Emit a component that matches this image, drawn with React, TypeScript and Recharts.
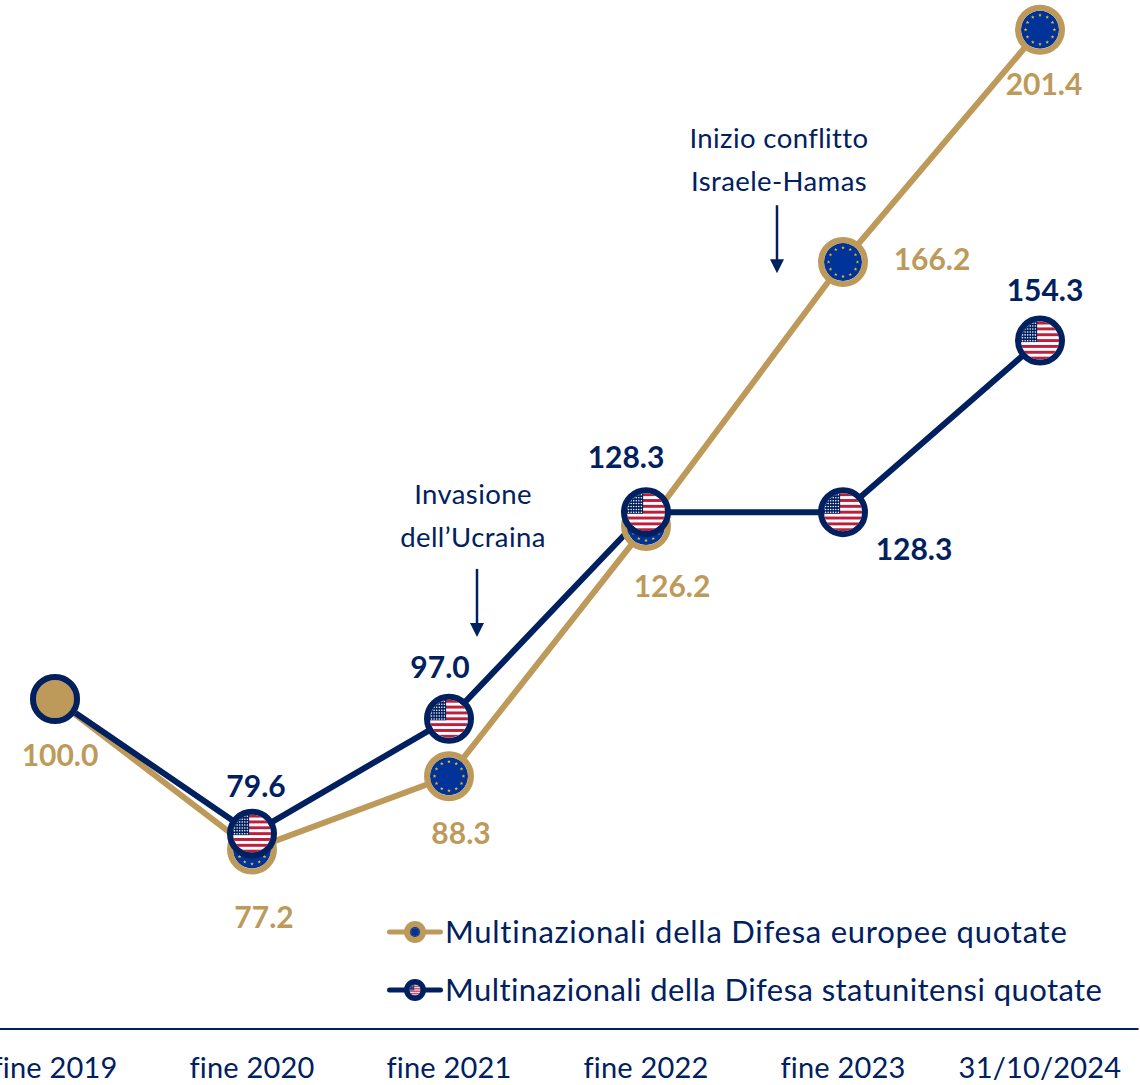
import { useId } from 'react'
import { LineChart, Line, XAxis, YAxis, LabelList, Legend, ReferenceDot } from 'recharts'

const categories = ['fine 2019', 'fine 2020', 'fine 2021', 'fine 2022', 'fine 2023', '31/10/2024']
const europeValues = [100.0, 77.2, 88.3, 126.2, 166.2, 201.4]
const usValues = [100.0, 79.6, 97.0, 128.3, 128.3, 154.3]
const europeName = 'Multinazionali della Difesa europee quotate'
const usName = 'Multinazionali della Difesa statunitensi quotate'

const data = categories.map((category, i) => ({
  category,
  europe: europeValues[i],
  us: usValues[i],
}))

const GOLD = '#BD9A5A'
const NAVY = '#002060'
const EU_BLUE = '#003399'
const EU_STAR = '#E8B820'
const US_RED = '#BE1E3C'
const FONT = 'Lato, sans-serif'

// label offsets from each point, by index
const europeLabelOffsets = [[5, 55], [12, 67], [12, 56], [26, 59], [89, -4], [4, 53]]
const usLabelOffsets = [null, [4, -49], [-9, -53], [-20, -56], [71, 36], [5, -52]]

function starPath(cx: number, cy: number, size: number) {
  const points = Array.from({ length: 10 }, (_, i) => {
    const a = -Math.PI / 2 + (i * Math.PI) / 5
    const rad = i % 2 === 0 ? size : size * 0.42
    return `${cx + Math.cos(a) * rad},${cy + Math.sin(a) * rad}`
  })
  return `M${points.join('L')}Z`
}

function EuFlag({ r }: { r: number }) {
  const stars = Array.from({ length: 12 }, (_, i) => (i * Math.PI) / 6)
  return (
    <g>
      <circle r={r} fill={EU_BLUE} />
      {stars.map((a) => (
        <path key={a} d={starPath(Math.cos(a) * r * 0.76, Math.sin(a) * r * 0.76, r * 0.1)} fill={EU_STAR} />
      ))}
    </g>
  )
}

function UsFlag({ r }: { r: number }) {
  const id = useId()
  const h = (2 * r) / 13
  const rows = Array.from({ length: 13 }, (_, i) => i)
  const starRows = Array.from({ length: 7 }, (_, i) => i)
  const starCols = Array.from({ length: 6 }, (_, i) => i)
  return (
    <g clipPath={`url(#${id})`}>
      <clipPath id={id}>
        <circle r={r} />
      </clipPath>
      <rect x={-r} y={-r} width={2 * r} height={2 * r} fill="#fff" />
      {rows
        .filter((i) => i % 2 === 0)
        .map((i) => (
          <rect key={i} x={-r} y={-r + i * h} width={2 * r} height={h} fill={US_RED} />
        ))}
      <rect x={-r} y={-r} width={r * 0.85} height={7 * h} fill={NAVY} />
      {starRows.map((row) =>
        starCols.map((col) => (
          <circle
            key={`${row}-${col}`}
            cx={-r + (col + 0.6) * r * 0.135}
            cy={-r + (row + 0.55) * h}
            r={r * 0.04}
            fill="#fff"
          />
        )),
      )}
    </g>
  )
}

function EuropeDot({ cx, cy, index }: any) {
  return (
    <g key={index} transform={`translate(${cx},${cy})`}>
      {index === 0 ? <circle r={19} fill={GOLD} /> : <EuFlag r={19} />}
      <circle r={22} fill="none" stroke={GOLD} strokeWidth={6} />
    </g>
  )
}

function UsDot({ cx, cy, index }: any) {
  return (
    <g key={index} transform={`translate(${cx},${cy})`}>
      {index === 0 ? <circle r={19} fill={GOLD} /> : <UsFlag r={19} />}
      <circle r={22} fill="none" stroke={NAVY} strokeWidth={6} />
    </g>
  )
}

function valueLabel(offsets: (number[] | null)[], color: string) {
  return ({ x, y, value, index }: any) => {
    const offset = offsets[index]
    if (!offset) return null
    return (
      <text
        x={x + offset[0]}
        y={y + offset[1]}
        textAnchor="middle"
        dominantBaseline="central"
        fill={color}
        fontFamily={FONT}
        fontSize={30}
        fontWeight={700}
      >
        {Number(value).toFixed(1)}
      </text>
    )
  }
}

function Annotation({ cx, cy, dx, textDx, lines, top }: any) {
  const x = cx + dx
  return (
    <g>
      {lines.map((line: string, i: number) => (
        <text
          key={line}
          x={x + textDx}
          y={cy + top + i * 43}
          textAnchor="middle"
          dominantBaseline="central"
          fill={NAVY}
          fontFamily={FONT}
          fontSize={27.5}
          letterSpacing={0.4}
        >
          {line}
        </text>
      ))}
      <line x1={x} y1={cy - 68} x2={x} y2={cy - 10} stroke={NAVY} strokeWidth={2.5} />
      <path d={`M${x - 7},${cy - 14}L${x + 7},${cy - 14}L${x},${cy}Z`} fill={NAVY} />
    </g>
  )
}

function LegendRow({ color, label, flag, spacing }: { color: string; label: string; flag: React.ReactNode; spacing: number }) {
  return (
    <div style={{ display: 'flex', alignItems: 'center', height: 58 }}>
      <svg width={59} height={30} style={{ flexShrink: 0 }}>
        <line x1={3.5} y1={15} x2={54.5} y2={15} stroke={color} strokeWidth={5} strokeLinecap="round" />
        <g transform="translate(29,15)">
          <circle r={11} fill={color} />
          {flag}
        </g>
      </svg>
      <span
        style={{
          position: 'relative',
          top: -1,
          color: NAVY,
          fontFamily: FONT,
          fontSize: 31,
          letterSpacing: spacing,
          whiteSpace: 'nowrap',
        }}
      >
        {label}
      </span>
    </div>
  )
}

function ChartLegend() {
  return (
    <div>
      <LegendRow color={GOLD} label={europeName} flag={<EuFlag r={5} />} spacing={0.75} />
      <LegendRow color={NAVY} label={usName} flag={<UsFlag r={5.5} />} spacing={0.43} />
    </div>
  )
}

export default function App() {
  return (
    <div style={{ position: 'absolute', left: -44, top: 0, width: 1183, height: 1085 }}>
      <LineChart width={1183} height={1085} data={data} margin={{ top: 0, right: 0.5, bottom: 0, left: 0.5 }}>
        <XAxis
          dataKey="category"
          scale="band"
          interval={0}
          height={56}
          axisLine={{ stroke: NAVY, strokeWidth: 2 }}
          tickLine={false}
          tick={{ fill: NAVY, fontFamily: FONT, fontSize: 29, letterSpacing: 0.2 }}
          tickMargin={22}
        />
        <YAxis hide domain={[50, 205.9]} />
        {/* vertical + center + middle keeps the legend from reserving plot space */}
        <Legend
          content={<ChartLegend />}
          layout="vertical"
          verticalAlign="middle"
          align="center"
          wrapperStyle={{ left: 430, top: 903, width: 760 }}
        />
        <Line
          dataKey="europe"
          name={europeName}
          stroke={GOLD}
          strokeWidth={6}
          dot={(props: any) => <EuropeDot {...props} key={props.index} />}
          activeDot={false}
          isAnimationActive={false}
        >
          <LabelList dataKey="europe" content={valueLabel(europeLabelOffsets, GOLD)} />
        </Line>
        <Line
          dataKey="us"
          name={usName}
          stroke={NAVY}
          strokeWidth={6}
          dot={(props: any) => <UsDot {...props} key={props.index} />}
          activeDot={false}
          isAnimationActive={false}
        >
          <LabelList dataKey="us" content={valueLabel(usLabelOffsets, NAVY)} />
        </Line>
        <ReferenceDot
          x="fine 2021"
          y={109.4}
          shape={(props: any) => (
            <Annotation {...props} dx={28} textDx={-4} top={-143} lines={['Invasione', 'dell’Ucraina']} />
          )}
        />
        <ReferenceDot
          x="fine 2023"
          y={164.5}
          shape={(props: any) => (
            <Annotation {...props} dx={-66} textDx={2} top={-136} lines={['Inizio conflitto', 'Israele-Hamas']} />
          )}
        />
      </LineChart>
    </div>
  )
}
